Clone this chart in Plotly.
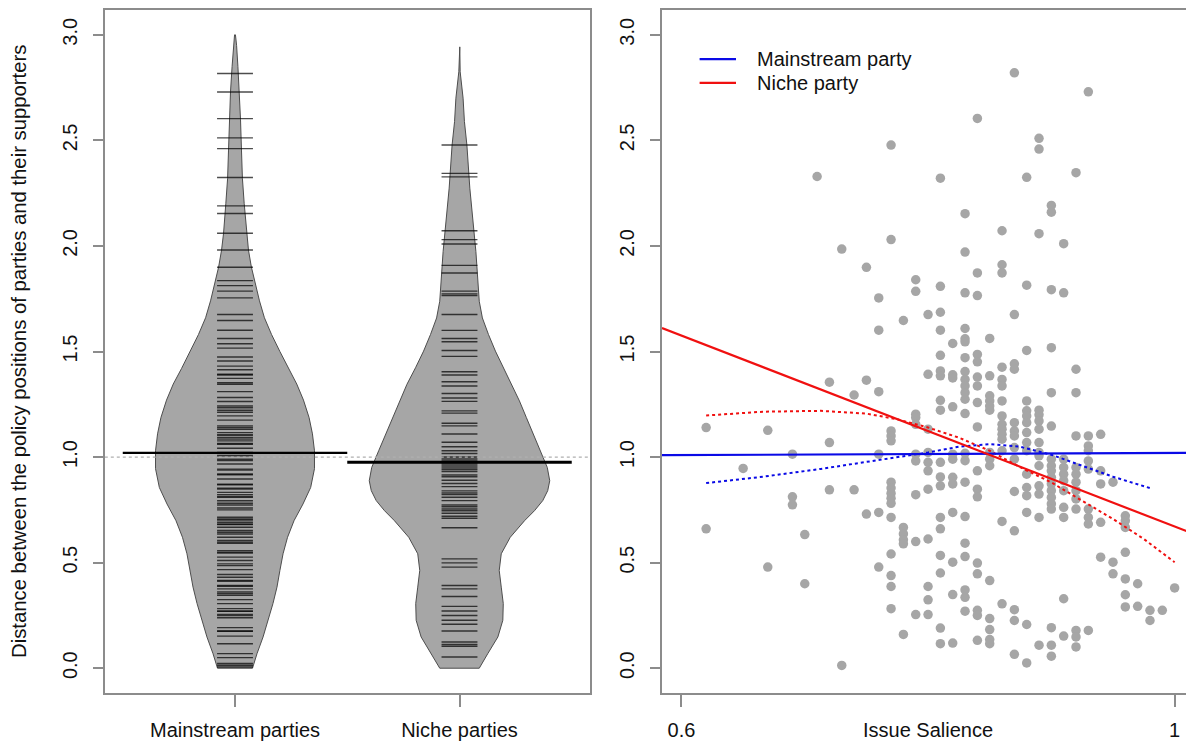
import plotly.graph_objects as go

# ---------------- data ----------------
categories = ["Mainstream parties", "Niche parties"]
cat_pos = [1, 2]
group_means = [1.02, 0.975]
overall_mean = 1.0
bean_half = 0.08

mainstream_values = [
    2.817, 2.729, 2.603, 2.512, 2.461, 2.324, 2.190, 2.154, 2.060, 1.981, 1.899, 1.836, 1.812,
    1.786, 1.754, 1.675, 1.647, 1.601, 1.562, 1.537, 1.516, 1.474, 1.455, 1.431, 1.414, 1.392,
    1.373, 1.345, 1.310, 1.282, 1.263, 1.242, 1.222, 1.195, 1.175, 1.148, 1.132, 1.116, 1.105,
    1.093, 1.077, 1.061, 1.042, 1.022, 1.006, 0.990, 0.967, 0.938, 0.916, 0.896, 0.869, 0.853,
    0.833, 0.813, 0.793, 0.781, 0.759, 0.715, 0.707, 0.691, 0.680, 0.668, 0.652, 0.636, 0.620,
    0.597, 0.557, 0.545, 0.526, 0.510, 0.486, 0.467, 0.444, 0.431, 0.412, 0.388, 0.376, 0.361,
    0.345, 0.325, 0.306, 0.282, 0.271, 0.255, 0.239, 0.192, 0.176, 0.152, 0.116, 0.069, 0.050,
    0.022, 0.014, 0.006, 1.389, 1.352, 1.234, 1.212, 1.140, 1.104, 1.085, 1.064, 1.017, 0.983,
    0.943, 0.920, 0.872, 0.849, 0.822, 0.809, 0.773, 0.750, 0.702, 0.683, 0.644, 0.605, 0.592,
    0.549, 0.494, 0.416, 0.392, 0.353, 0.269, 0.249, 0.175,
]
niche_values = [
    2.478, 2.344, 2.327, 2.072, 2.030, 2.009, 1.908, 1.872, 1.786, 1.773, 1.765, 1.675, 1.600,
    1.562, 1.546, 1.505, 1.477, 1.404, 1.389, 1.357, 1.337, 1.301, 1.280, 1.264, 1.219, 1.208,
    1.160, 1.148, 1.109, 1.070, 1.049, 1.030, 1.017, 1.001, 0.995, 0.986, 0.975, 0.967, 0.958,
    0.948, 0.940, 0.931, 0.915, 0.907, 0.890, 0.875, 0.860, 0.840, 0.830, 0.822, 0.810, 0.794,
    0.773, 0.765, 0.754, 0.746, 0.734, 0.720, 0.710, 0.665, 0.518, 0.499, 0.479, 0.392, 0.376,
    0.340, 0.293, 0.271, 0.250, 0.227, 0.208, 0.176, 0.124, 0.112, 0.104, 0.053,
]

# bean (density) outline: value and half-width (x units), top to bottom
mainstream_density_y = [3.00, 2.95, 2.85, 2.73, 2.60, 2.45, 2.32, 2.20, 2.06, 1.98, 1.90, 1.82,
                        1.74, 1.66, 1.58, 1.50, 1.42, 1.346, 1.27, 1.187, 1.11, 1.03, 0.945,
                        0.856, 0.778, 0.699, 0.620, 0.542, 0.463, 0.384, 0.306, 0.227, 0.148,
                        0.069, 0.0]
mainstream_density_w = [0.002, 0.007, 0.013, 0.020, 0.0245, 0.029, 0.033, 0.041, 0.051, 0.060,
                        0.073, 0.091, 0.109, 0.131, 0.163, 0.200, 0.238, 0.275, 0.305, 0.330,
                        0.345, 0.354, 0.354, 0.337, 0.303, 0.263, 0.234, 0.214, 0.200, 0.187,
                        0.169, 0.147, 0.125, 0.098, 0.078]
niche_density_y = [2.943, 2.825, 2.70, 2.589, 2.478, 2.274, 1.974, 1.817, 1.738, 1.659, 1.581,
                   1.502, 1.423, 1.345, 1.266, 1.187, 1.109, 1.030, 0.951, 0.888, 0.841, 0.794,
                   0.746, 0.699, 0.620, 0.542, 0.463, 0.384, 0.306, 0.227, 0.148, 0.069, 0.0]
niche_density_w = [0.0013, 0.003, 0.016, 0.022, 0.033, 0.046, 0.073, 0.082, 0.088, 0.102, 0.129,
                   0.160, 0.196, 0.234, 0.267, 0.298, 0.328, 0.360, 0.391, 0.402, 0.393, 0.371,
                   0.334, 0.290, 0.226, 0.186, 0.177, 0.186, 0.195, 0.193, 0.171, 0.126, 0.088]

# scatter: issue salience columns and distances in each column
salience_cols = [0.62, 0.65, 0.67, 0.69, 0.70, 0.71, 0.72, 0.73, 0.74, 0.75, 0.76, 0.77, 0.78,
                 0.79, 0.80, 0.81, 0.82, 0.83, 0.84, 0.85, 0.86, 0.87, 0.88, 0.89, 0.90, 0.91,
                 0.92, 0.93, 0.94, 0.95, 0.96, 0.97, 0.98, 0.99, 1.00]
distance_by_col = [
    [1.140, 0.660],
    [0.946],
    [1.127, 0.479],
    [1.014, 0.812, 0.774],
    [0.633, 0.400],
    [2.329],
    [1.355, 1.069, 0.845],
    [1.985, 0.013],
    [1.294, 0.845],
    [1.899, 1.364, 0.730],
    [1.754, 1.601, 1.310, 1.014, 0.738, 0.479],
    [2.478, 2.030, 1.124, 1.100, 1.077, 0.881, 0.853, 0.828, 0.805, 0.781, 0.714, 0.541, 0.439, 0.387, 0.282],
    [1.647, 0.667, 0.636, 0.608, 0.589, 0.160],
    [1.840, 1.785, 1.203, 1.187, 1.155, 1.014, 0.982, 0.822, 0.600, 0.254],
    [1.675, 1.392, 1.132, 1.022, 0.975, 0.935, 0.848, 0.612, 0.387, 0.324, 0.254],
    [2.321, 1.809, 1.686, 1.601, 1.482, 1.408, 1.385, 1.269, 1.222, 0.975, 0.906, 0.864, 0.714, 0.660, 0.534, 0.451, 0.190, 0.116],
    [1.538, 1.390, 1.375, 1.238, 1.014, 0.990, 0.904, 0.873, 0.738, 0.502, 0.349, 0.119],
    [2.153, 1.971, 1.778, 1.609, 1.560, 1.546, 1.471, 1.405, 1.368, 1.337, 1.305, 1.274, 1.206, 1.018, 0.983, 0.881, 0.718, 0.592, 0.529, 0.371, 0.336, 0.270],
    [2.604, 1.872, 1.765, 1.486, 1.451, 1.379, 1.337, 1.258, 1.143, 0.935, 0.848, 0.812, 0.498, 0.447, 0.274, 0.250, 0.132],
    [1.562, 1.385, 1.290, 1.266, 1.242, 1.222, 1.022, 0.990, 0.959, 0.415, 0.235, 0.183, 0.136, 0.116],
    [2.072, 1.911, 1.872, 1.426, 1.368, 1.337, 1.266, 1.195, 1.155, 1.132, 1.108, 1.085, 1.030, 0.695, 0.305],
    [2.820, 1.675, 1.442, 1.416, 1.163, 1.124, 1.100, 1.045, 0.990, 0.837, 0.651, 0.277, 0.226, 0.066],
    [2.325, 1.814, 1.505, 1.266, 1.219, 1.195, 1.163, 1.116, 1.069, 1.030, 0.919, 0.856, 0.817, 0.738, 0.207, 0.025],
    [2.510, 2.459, 2.058, 1.222, 1.200, 1.171, 1.132, 1.069, 1.022, 1.006, 0.959, 0.864, 0.825, 0.714, 0.109],
    [2.192, 2.160, 1.793, 1.518, 1.305, 1.147, 0.990, 0.959, 0.935, 0.904, 0.873, 0.841, 0.809, 0.778, 0.754, 0.192, 0.109, 0.057],
    [2.011, 1.778, 0.990, 0.951, 0.919, 0.888, 0.841, 0.762, 0.714, 0.329, 0.152],
    [2.347, 1.416, 1.305, 1.100, 0.951, 0.919, 0.881, 0.841, 0.802, 0.754, 0.179, 0.148, 0.101],
    [2.730, 1.100, 1.053, 1.030, 0.982, 0.943, 0.754, 0.714, 0.683, 0.179],
    [1.108, 0.935, 0.873, 0.691, 0.526],
    [0.881, 0.502, 0.447],
    [0.722, 0.699, 0.667, 0.549, 0.423, 0.348, 0.290],
    [0.400, 0.293],
    [0.274, 0.226],
    [0.274],
    [0.380],
]

# linear fits (intercept, slope)
mainstream_fit = [0.994, 0.0255]
niche_fit = [2.933, -2.262]
fit_names = ["Mainstream party", "Niche party"]

# local (loess) fits
loess_main_x = [0.62, 0.666, 0.713, 0.76, 0.80, 0.825, 0.85, 0.875, 0.90, 0.925, 0.95, 0.98]
loess_main_y = [0.877, 0.907, 0.944, 0.986, 1.022, 1.049, 1.061, 1.049, 1.011, 0.959, 0.907, 0.853]
loess_niche_x = [0.62, 0.666, 0.713, 0.75, 0.775, 0.80, 0.825, 0.85, 0.875, 0.90, 0.925, 0.95, 0.975, 1.0]
loess_niche_y = [1.197, 1.215, 1.219, 1.206, 1.179, 1.140, 1.092, 1.030, 0.951, 0.880, 0.793, 0.707, 0.612, 0.502]

y_ticks = [0.0, 0.5, 1.0, 1.5, 2.0, 2.5, 3.0]
x2_ticks = [0.6, 1.0]
x2_ticktext = ["0.6", "1"]

# ---------------- styling / layout ----------------
# The page body has an 8px margin, so the figure is drawn 8px in from the window corner.
OFF = 8
W, H = 1194 - OFF, 745 - OFF
FONT = "Liberation Sans, Arial, sans-serif"
FS = 20
TXT = "#111111"
AXC = "#8c8c8c"
BEAN_FILL = "#a6a6a6"
PT_COL = "#a6a6a6"
BLUE = "#0a0ae6"
RED = "#f01010"
LINE_COLORS = [BLUE, RED]


def fx_(px):
    return (px - OFF) / W


def fy_(py):
    return 1 - (py - OFF) / H


# vertical scale: value 0 at window y=668, 211.7 px per unit
Y0_PX, Y_PPU = 668.0, 211.7
TOP_PX, BOT_PX = 8.0, 692.7
y_range = [(Y0_PX - BOT_PX) / Y_PPU, (Y0_PX - TOP_PX) / Y_PPU]
y_dom = [fy_(BOT_PX), 1.0]

x1_range = [0.42, 2.58]
x2_range = [0.5842, 1.0157]
x1_dom = [fx_(104.8), fx_(589.7)]
x2_dom = [fx_(662.0), 1.0]

fig = go.Figure()

# ---- left panel: beans ----
for c, ys, ws in [(cat_pos[0], mainstream_density_y, mainstream_density_w),
                  (cat_pos[1], niche_density_y, niche_density_w)]:
    px = [c + w for w in ws] + [c - w for w in reversed(ws)] + [c + ws[0]]
    py = list(ys) + list(reversed(ys)) + [ys[0]]
    fig.add_trace(go.Scatter(x=px, y=py, mode="lines", fill="toself", fillcolor=BEAN_FILL,
                             line=dict(color="#4d4d4d", width=1), hoverinfo="skip",
                             showlegend=False, xaxis="x", yaxis="y"))

for c, vals in [(cat_pos[0], mainstream_values), (cat_pos[1], niche_values)]:
    bx, by = [], []
    for v in vals:
        bx += [c - bean_half, c + bean_half, None]
        by += [v, v, None]
    fig.add_trace(go.Scatter(x=bx, y=by, mode="lines", line=dict(color="rgba(0,0,0,0.7)", width=1.4),
                             hoverinfo="skip", showlegend=False, xaxis="x", yaxis="y"))

# overall mean (dotted)
fig.add_trace(go.Scatter(x=x1_range, y=[overall_mean, overall_mean], mode="lines",
                         line=dict(color="#b0b0b0", width=1.2, dash="dot"),
                         hoverinfo="skip", showlegend=False, xaxis="x", yaxis="y"))
# group means
for c, m, wdt in [(cat_pos[0], group_means[0], 2.2), (cat_pos[1], group_means[1], 3)]:
    fig.add_trace(go.Scatter(x=[c - 0.5, c + 0.5], y=[m, m], mode="lines",
                             line=dict(color="black", width=wdt),
                             hoverinfo="skip", showlegend=False, xaxis="x", yaxis="y"))

# ---- right panel ----
sx, sy = [], []
for xv, col in zip(salience_cols, distance_by_col):
    for yv in col:
        sx.append(xv)
        sy.append(yv)
fig.add_trace(go.Scatter(x=sx, y=sy, mode="markers",
                         marker=dict(color=PT_COL, size=9.5, line=dict(width=0)),
                         showlegend=False, xaxis="x2", yaxis="y2"))

fig.add_trace(go.Scatter(x=loess_niche_x, y=loess_niche_y, mode="lines",
                         line=dict(color=RED, width=2, dash="dot"), showlegend=False,
                         xaxis="x2", yaxis="y2"))
fig.add_trace(go.Scatter(x=loess_main_x, y=loess_main_y, mode="lines",
                         line=dict(color=BLUE, width=2, dash="dot"), showlegend=False,
                         xaxis="x2", yaxis="y2"))

fit_x = x2_range
for fit, name, colr in [(mainstream_fit, fit_names[0], BLUE), (niche_fit, fit_names[1], RED)]:
    fig.add_trace(go.Scatter(x=fit_x, y=[fit[0] + fit[1] * v for v in fit_x],
                             mode="lines", line=dict(color=colr, width=2.2), name=name,
                             showlegend=False, xaxis="x2", yaxis="y2"))

axis_common = dict(showline=True, linecolor=AXC, linewidth=1.5, ticks="outside",
                   tickcolor=AXC, tickwidth=1.5, showgrid=False, zeroline=False,
                   tickfont=dict(family=FONT, size=FS, color=TXT))

# manual legend (R-style, no box)
legend_shapes, legend_ann = [], []
for i, (name, colr) in enumerate(zip(fit_names, LINE_COLORS)):
    yy = fy_(57.3 + 23.8 * i)
    legend_shapes.append(dict(type="line", xref="paper", yref="paper", x0=fx_(699.6), x1=fx_(736),
                              y0=yy, y1=yy, line=dict(color=colr, width=2.2)))
    legend_ann.append(dict(text=name, xref="paper", yref="paper", x=fx_(754.6), y=yy,
                           xanchor="left", yanchor="middle", showarrow=False,
                           font=dict(family=FONT, size=FS, color=TXT)))

fig.update_layout(
    width=W, height=H, autosize=False,
    margin=dict(l=0, r=0, t=0, b=0),
    paper_bgcolor="white", plot_bgcolor="white",
    font=dict(family=FONT, size=FS, color=TXT),
    xaxis=dict(domain=x1_dom, range=x1_range, anchor="y", tickvals=cat_pos, ticktext=categories,
               mirror=True, ticklen=12, ticklabelstandoff=6, **axis_common),
    yaxis=dict(domain=y_dom, range=y_range, anchor="x", tickvals=y_ticks,
               ticktext=[f"{v:.1f}" for v in y_ticks], tickangle=-90, mirror=True,
               ticklen=10, ticklabelstandoff=8, **axis_common),
    xaxis2=dict(domain=x2_dom, range=x2_range, anchor="y2", tickvals=x2_ticks, ticktext=x2_ticktext,
                mirror=True, ticklen=12, ticklabelstandoff=6, **axis_common),
    yaxis2=dict(domain=y_dom, range=y_range, anchor="x2", tickvals=y_ticks,
                ticktext=[f"{v:.1f}" for v in y_ticks], tickangle=-90, mirror=False,
                ticklen=10, ticklabelstandoff=8, **axis_common),
    showlegend=False,
    shapes=legend_shapes,
    annotations=legend_ann + [
        dict(text="Distance between the policy positions of parties and their supporters",
             textangle=-90, xref="paper", yref="y domain", x=fx_(19.5), y=0.5,
             xanchor="center", yanchor="middle", showarrow=False,
             font=dict(family=FONT, size=20.3, color=TXT)),
        dict(text="Issue Salience", xref="x2 domain", yref="paper", x=0.5, y=fy_(730),
             xanchor="center", yanchor="middle", showarrow=False,
             font=dict(family=FONT, size=FS, color=TXT)),
    ],
)

fig.write_html("out.html")
